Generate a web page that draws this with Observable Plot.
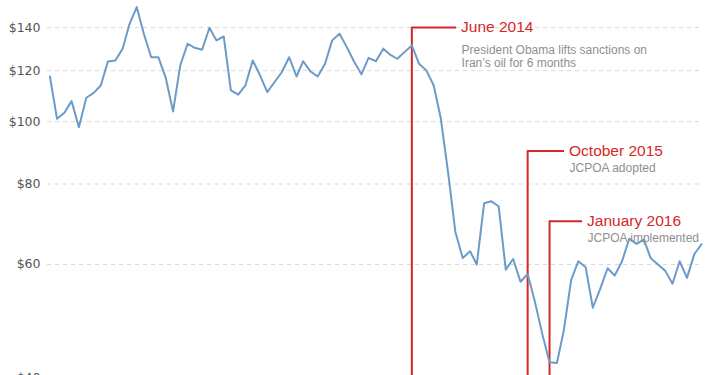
<!DOCTYPE html>
<html>
<head>
<meta charset="utf-8">
<script src="https://cdn.jsdelivr.net/npm/d3@7"></script>
<script src="https://cdn.jsdelivr.net/npm/@observablehq/plot@0.6"></script>
<style>
  html, body { margin: 0; padding: 0; background: #fff; }
  #chart { width: 710px; }
</style>
</head>
<body>
<div id="chart"></div>
<script>
// Monthly series, April 2010 – October 2017
const months = d3.utcMonth.range(new Date(Date.UTC(2010, 3, 1)), new Date(Date.UTC(2017, 10, 1)));
const prices = [
  117.5, 101.0, 103.2, 107.6, 98.0, 108.9, 110.7, 113.8, 124.0, 124.4,
  129.8, 141.5, 150.6, 136.9, 125.9, 125.9, 117.0, 103.7, 122.2, 132.1,
  130.2, 129.3, 139.9, 133.7, 135.6, 111.8, 110.1, 113.8, 124.4, 117.9,
  111.1, 115.2, 119.3, 125.9, 117.5, 124.1, 119.6, 117.5, 123.0, 133.7,
  136.9, 130.4, 124.0, 118.4, 125.6, 124.1, 129.8, 127.1, 125.2, 128.2,
  131.3, 123.0, 120.1, 113.8, 101.0, 83.0, 67.4, 61.4, 62.9, 60.0,
  74.7, 75.2, 73.9, 58.9, 61.2, 56.4, 58.0, 52.4, 46.9, 42.3,
  42.2, 47.4, 56.8, 60.7, 59.4, 51.4, 55.0, 59.2, 57.7, 60.7,
  65.8, 64.6, 65.6, 61.4, 60.0, 58.7, 56.0, 60.7, 57.2, 62.3, 64.5
];
const yTicks = [40, 60, 80, 100, 120, 140];

// Annotations
const eventDates = ["2014-06-01", "2015-10-01", "2016-01-01"];
const eventTitles = ["June 2014", "October 2015", "January 2016"];
const eventNotes = ["President Obama lifts sanctions on\nIran\u2019s oil for 6 months", "JCPOA adopted", "JCPOA implemented"];
const eventLabelDates = ["2014-12-06", "2016-03-04", "2016-05-19"];
const eventLabelValues = [140, 90, 70];
const ruleBottomValue = 30; // below the visible area

const series = months.map((d, i) => ({date: d, value: prices[i]}));
const events = eventDates.map((d, i) => ({
  date: new Date(d),
  title: eventTitles[i],
  note: eventNotes[i],
  labelDate: new Date(eventLabelDates[i]),
  labelValue: eventLabelValues[i],
  bottom: ruleBottomValue
}));

const red = "#d62728";
const blue = "#6b9bc8";
const annFont = "'Liberation Sans', Arial, Helvetica, sans-serif";

const chart = Plot.plot({
  width: 710,
  height: 400,
  marginLeft: 47,
  marginRight: 10,
  marginTop: 0,
  marginBottom: 0,
  style: {background: "#fff", fontFamily: "'DejaVu Sans', sans-serif"},
  x: {type: "utc", domain: [months[0], months[months.length - 1]], range: [49.4, 701], axis: null},
  y: {type: "log", domain: [40, 140], range: [377.4, 27], label: null, clamp: false},
  marks: [
    Plot.gridY(yTicks, {stroke: "#d9d9d9", strokeOpacity: 1, strokeDasharray: "4,4"}),
    Plot.axisY(yTicks, {tickSize: 0, tickPadding: 7, tickFormat: d => "$" + d, fontSize: 12.5, fill: "#555", label: null}),
    Plot.ruleX(events, {x: "date", y1: "labelValue", y2: "bottom", stroke: red, strokeWidth: 2}),
    Plot.ruleY(events, {y: "labelValue", x1: "date", x2: "labelDate", stroke: red, strokeWidth: 2}),
    Plot.line(series, {x: "date", y: "value", stroke: blue, strokeWidth: 2, strokeLinejoin: "round"}),
    Plot.text(events, {x: "labelDate", y: "labelValue", text: "title", textAnchor: "start", dx: 4.5, fill: red, fontSize: 15.5, fontFamily: annFont}),
    Plot.text(events.filter(d => d.note.includes("\n")), {x: "labelDate", y: "labelValue", text: "note", textAnchor: "start", lineAnchor: "top", lineHeight: 1.1, dx: 5, dy: 17, fill: "#8f8f8f", fontSize: 12, fontFamily: annFont}),
    Plot.text(events.filter(d => !d.note.includes("\n")), {x: "labelDate", y: "labelValue", text: "note", textAnchor: "start", lineAnchor: "top", dx: 5, dy: 12.5, fill: "#8f8f8f", fontSize: 12, fontFamily: annFont})
  ]
});
document.getElementById("chart").appendChild(chart);
</script>
</body>
</html>
